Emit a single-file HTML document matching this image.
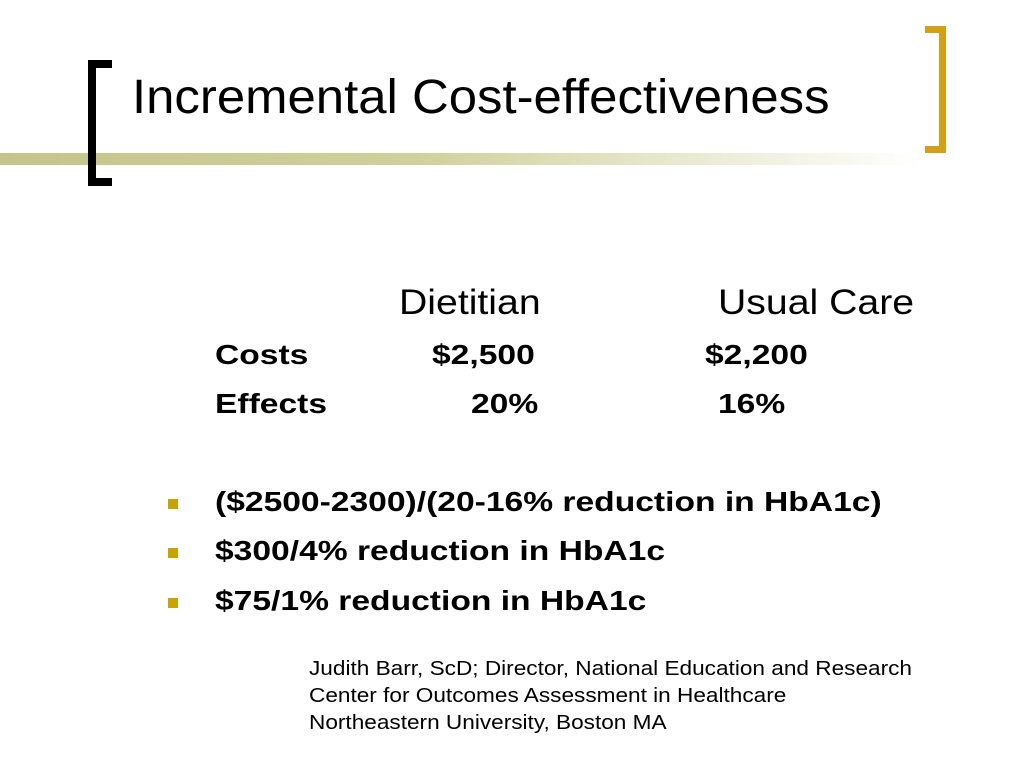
<!DOCTYPE html>
<html><head><meta charset="utf-8"><style>
body{margin:0;width:1024px;height:768px;background:#fff;position:relative;overflow:hidden;font-family:"Liberation Sans",Arial,sans-serif;color:#000}
.a{position:absolute;white-space:nowrap;transform-origin:left}
.b{font-weight:bold;font-size:28px;transform:scaleX(1.2)}
.h{font-size:35px;transform:scaleX(1.12)}
.bul{position:absolute;width:10px;height:10px;background:#c9a400}
</style></head><body>
<div class="a" style="left:0;top:153px;width:920px;height:12px;background:linear-gradient(to right,#c4c48a 0%,#d0d09c 45%,#fff 100%)"></div>
<div class="a" style="left:88px;top:60px;width:24px;height:126px;border:8px solid #000;border-right:none;box-sizing:border-box"></div>
<div class="a" style="left:925px;top:26px;width:21px;height:127px;border:7px solid #d4a017;border-left:none;box-sizing:border-box"></div>
<div class="a" style="left:132px;top:70px;font-size:48px;transform:scaleX(1.06)">Incremental Cost-effectiveness</div>
<div class="a h" style="left:399px;top:283px">Dietitian</div>
<div class="a h" style="left:718px;top:283px">Usual Care</div>
<div class="a b" style="left:215px;top:339px">Costs</div>
<div class="a b" style="left:432px;top:339px">$2,500</div>
<div class="a b" style="left:705px;top:339px">$2,200</div>
<div class="a b" style="left:215px;top:388px">Effects</div>
<div class="a b" style="left:471px;top:388px">20%</div>
<div class="a b" style="left:718px;top:388px">16%</div>
<div class="bul" style="left:168px;top:499px"></div>
<div class="a b" style="left:215px;top:486px">($2500-2300)/(20-16% reduction in HbA1c)</div>
<div class="bul" style="left:168px;top:548px"></div>
<div class="a b" style="left:215px;top:535px">$300/4% reduction in HbA1c</div>
<div class="bul" style="left:168px;top:598px"></div>
<div class="a b" style="left:215px;top:585px">$75/1% reduction in HbA1c</div>
<div class="a" style="left:309px;top:656px;font-size:20px;line-height:27px;transform:scaleX(1.13)">Judith Barr, ScD; Director, National Education and Research<br>Center for Outcomes Assessment in Healthcare<br>Northeastern University, Boston MA</div>
</body></html>
